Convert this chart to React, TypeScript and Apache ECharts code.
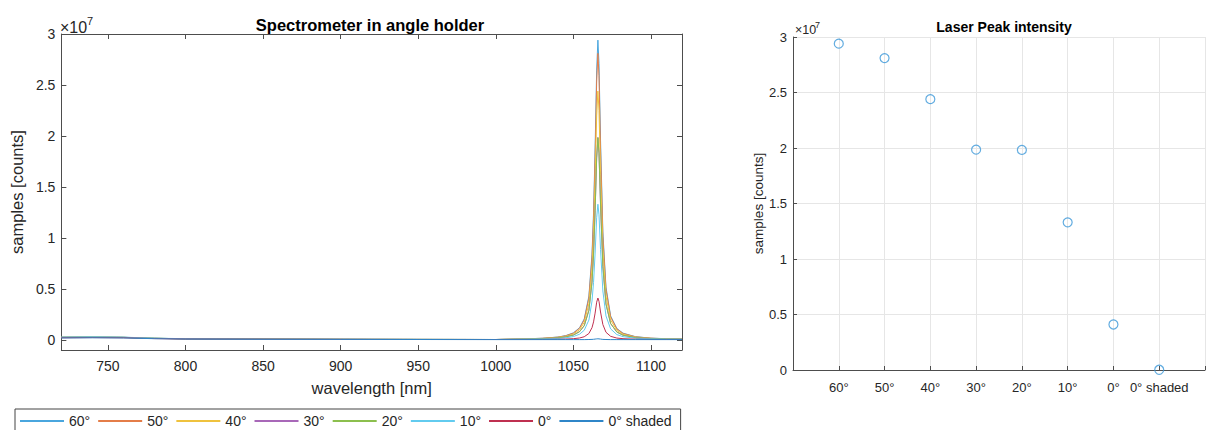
import React, { useEffect, useRef } from "react";
import * as echarts from "echarts";

const FONT = "'Liberation Sans', Arial, Helvetica, sans-serif";
const SCALE = 1e7; // values below are in units of 10^7 counts

const angleLabels = ["60°", "50°", "40°", "30°", "20°", "10°", "0°", "0° shaded"];

const wavelengths = [
  720, 740, 760, 780, 800, 850, 900, 950, 1000, 1020, 1030, 1040, 1045, 1050, 1054, 1057,
  1060, 1062, 1063, 1064, 1065, 1065.8, 1066.5, 1067.5, 1069, 1071, 1074, 1078, 1082, 1090,
  1100, 1110, 1120,
];

const spec60 = [0.025, 0.028, 0.025, 0.015, 0.010, 0.007, 0.005, 0.004, 0.003, 0.010, 0.015, 0.027, 0.041, 0.068, 0.119, 0.205, 0.429, 0.841, 1.247, 1.882, 2.646, 2.94, 2.711, 1.958, 1.058, 0.517, 0.234, 0.111, 0.065, 0.031, 0.016, 0.011, 0.008];
const spec50 = [0.024, 0.027, 0.024, 0.015, 0.010, 0.007, 0.005, 0.004, 0.003, 0.010, 0.015, 0.026, 0.039, 0.065, 0.114, 0.196, 0.410, 0.804, 1.191, 1.798, 2.529, 2.81, 2.591, 1.871, 1.012, 0.495, 0.224, 0.107, 0.062, 0.029, 0.016, 0.010, 0.008];
const spec40 = [0.025, 0.027, 0.024, 0.014, 0.010, 0.007, 0.005, 0.004, 0.003, 0.009, 0.013, 0.023, 0.034, 0.057, 0.099, 0.171, 0.356, 0.698, 1.035, 1.562, 2.196, 2.44, 2.25, 1.625, 0.878, 0.429, 0.195, 0.093, 0.054, 0.026, 0.014, 0.009, 0.007];
const spec30 = [0.024, 0.026, 0.023, 0.014, 0.009, 0.006, 0.005, 0.004, 0.003, 0.007, 0.011, 0.019, 0.028, 0.047, 0.081, 0.139, 0.290, 0.568, 0.842, 1.270, 1.787, 1.985, 1.830, 1.322, 0.715, 0.349, 0.159, 0.076, 0.045, 0.021, 0.012, 0.008, 0.006];
const spec20 = [0.025, 0.027, 0.024, 0.015, 0.010, 0.007, 0.005, 0.004, 0.003, 0.007, 0.011, 0.019, 0.028, 0.046, 0.080, 0.138, 0.288, 0.565, 0.84, 1.265, 1.78, 1.983, 1.835, 1.33, 0.72, 0.352, 0.16, 0.077, 0.045, 0.021, 0.012, 0.008, 0.006];
const spec10 = [0.026, 0.029, 0.026, 0.016, 0.011, 0.007, 0.005, 0.004, 0.003, 0.006, 0.008, 0.013, 0.019, 0.032, 0.055, 0.094, 0.194, 0.380, 0.564, 0.851, 1.197, 1.33, 1.226, 0.886, 0.479, 0.234, 0.107, 0.051, 0.031, 0.015, 0.009, 0.006, 0.005];
const spec0 = [0.020, 0.022, 0.020, 0.012, 0.008, 0.006, 0.004, 0.003, 0.003, 0.003, 0.004, 0.0055, 0.0074, 0.011, 0.018, 0.030, 0.062, 0.119, 0.176, 0.262, 0.369, 0.41, 0.378, 0.273, 0.150, 0.074, 0.034, 0.017, 0.011, 0.006, 0.004, 0.003, 0.003];
const spec0Shaded = [0.018, 0.020, 0.018, 0.011, 0.007, 0.005, 0.004, 0.003, 0.002, 0.002, 0.002, 0.002, 0.002, 0.002, 0.002, 0.002, 0.003, 0.004, 0.005, 0.007, 0.009, 0.010, 0.009, 0.007, 0.004, 0.003, 0.002, 0.002, 0.002, 0.002, 0.002, 0.002, 0.002];

const peakIntensity = [2.94, 2.81, 2.44, 1.985, 1.983, 1.33, 0.41, 0.002];

const wavelengthTicks = [750, 800, 850, 900, 950, 1000, 1050, 1100];
const countTicks = [0, 0.5, 1, 1.5, 2, 2.5, 3];

const lineColors = ["#4aa6de", "#e47d48", "#efc23e", "#a868b8", "#8cbf4e", "#62cbef", "#bf3050", "#2f86c8"];
const scatterColor = "#3b97d8";

const AXIS = "#4d4d4d";
const TXT = "#262626";

export default function App() {
  const ref = useRef<HTMLDivElement>(null);
  useEffect(() => {
    if (!ref.current) return;
    const chart = echarts.init(ref.current, null, { renderer: "svg" });
    const spectra = [spec60, spec50, spec40, spec30, spec20, spec10, spec0, spec0Shaded];
    const fmt = (v: number) => `${Math.round((v / SCALE) * 10) / 10}`;
    const yTicks = countTicks.map((t) => t * SCALE);

    const option: any = {
      animation: false,
      textStyle: { fontFamily: FONT },
      grid: [
        { left: 58, top: 34, width: 624, height: 316 },
        { left: 793, top: 37, width: 423, height: 333 },
      ],
      legend: {
        data: angleLabels,
        left: 15,
        top: 409,
        orient: "horizontal",
        itemWidth: 44,
        itemHeight: 14,
        itemGap: 7,
        padding: [5, 9, 12, 4],
        borderColor: "#444",
        borderWidth: 1,
        selectedMode: false,
        itemStyle: { opacity: 0 },
        textStyle: { fontSize: 14, color: TXT, fontFamily: FONT },
      },
      xAxis: [
        {
          gridIndex: 0,
          type: "value",
          min: 720,
          max: 1120,
          axisLine: { show: true, onZero: false, lineStyle: { color: AXIS } },
          axisTick: { show: true, inside: true, length: 5, customValues: wavelengthTicks, lineStyle: { color: AXIS } },
          axisLabel: { customValues: wavelengthTicks, formatter: (v: number) => String(v), fontSize: 14, color: TXT, margin: 9, fontFamily: FONT },
          splitLine: { show: false },
          name: "wavelength [nm]",
          nameLocation: "middle",
          nameGap: 29,
          nameTextStyle: { fontSize: 16.5, color: TXT, fontFamily: FONT },
        },
        {
          gridIndex: 0,
          type: "value",
          position: "top",
          min: 720,
          max: 1120,
          axisLine: { show: true, onZero: false, lineStyle: { color: AXIS } },
          axisTick: { show: true, inside: true, length: 5, customValues: wavelengthTicks, lineStyle: { color: AXIS } },
          axisLabel: { show: false },
          splitLine: { show: false },
        },
        {
          gridIndex: 1,
          type: "value",
          min: 0,
          max: 9,
          interval: 1,
          axisLine: { show: true, onZero: false, lineStyle: { color: AXIS } },
          axisTick: { show: true, inside: true, length: 4, lineStyle: { color: AXIS } },
          axisLabel: {
            fontSize: 13,
            color: TXT,
            margin: 11,
            fontFamily: FONT,
            formatter: (v: number) => angleLabels[v - 1] ?? "",
          },
          splitLine: { show: true, lineStyle: { color: "#e6e6e6", width: 1 } },
        },
      ],
      yAxis: [
        {
          gridIndex: 0,
          type: "value",
          min: -0.1 * SCALE,
          max: 3 * SCALE,
          axisLine: { show: true, onZero: false, lineStyle: { color: AXIS } },
          axisTick: { show: true, inside: true, length: 5, customValues: yTicks, lineStyle: { color: AXIS } },
          axisLabel: { customValues: yTicks, formatter: fmt, fontSize: 14, color: TXT, margin: 6, fontFamily: FONT },
          splitLine: { show: false },
          name: "samples [counts]",
          nameLocation: "middle",
          nameGap: 30,
          nameTextStyle: { fontSize: 16.5, color: TXT, fontFamily: FONT },
        },
        {
          gridIndex: 0,
          type: "value",
          position: "right",
          min: -0.1 * SCALE,
          max: 3 * SCALE,
          axisLine: { show: true, onZero: false, lineStyle: { color: AXIS } },
          axisTick: { show: true, inside: true, length: 5, customValues: yTicks, lineStyle: { color: AXIS } },
          axisLabel: { show: false },
          splitLine: { show: false },
        },
        {
          gridIndex: 1,
          type: "value",
          min: 0,
          max: 3 * SCALE,
          interval: 0.5 * SCALE,
          axisLine: { show: true, onZero: false, lineStyle: { color: AXIS } },
          axisTick: { show: true, inside: true, length: 4, lineStyle: { color: AXIS } },
          axisLabel: { formatter: fmt, fontSize: 13, color: TXT, margin: 6, fontFamily: FONT },
          splitLine: { show: true, lineStyle: { color: "#e6e6e6", width: 1 } },
          name: "samples [counts]",
          nameLocation: "middle",
          nameGap: 28,
          nameTextStyle: { fontSize: 13.5, color: TXT, fontFamily: FONT },
        },
      ],
      series: [
        ...spectra.map((s, i) => ({
          type: "line",
          name: angleLabels[i],
          xAxisIndex: 0,
          yAxisIndex: 0,
          data: wavelengths.map((w, j) => [w, s[j] * SCALE]),
          symbol: "none",
          showSymbol: false,
          lineStyle: { width: 1, color: lineColors[i] },
          itemStyle: { color: lineColors[i] },
          clip: true,
        })),
        {
          type: "scatter",
          name: "Laser Peak intensity",
          xAxisIndex: 2,
          yAxisIndex: 2,
          data: peakIntensity.map((p, i) => [i + 1, p * SCALE]),
          symbol: "circle",
          symbolSize: 9,
          itemStyle: { color: "rgba(255,255,255,0)", borderColor: scatterColor, borderWidth: 1.2 },
          clip: false,
        },
      ],
      graphic: [
        {
          type: "text",
          x: 370,
          y: 25,
          style: { text: "Spectrometer in angle holder", fontSize: 16.5, fontWeight: "bold", fontFamily: FONT, fill: "#000", align: "center", verticalAlign: "middle" },
        },
        {
          type: "text",
          x: 1004,
          y: 27,
          style: { text: "Laser Peak intensity", fontSize: 14, fontWeight: "bold", fontFamily: FONT, fill: "#000", align: "center", verticalAlign: "middle" },
        },
        {
          type: "text",
          x: 60,
          y: 27,
          style: { text: "×10", fontSize: 16, fontFamily: FONT, fill: TXT, align: "left", verticalAlign: "middle" },
        },
        {
          type: "text",
          x: 87,
          y: 21,
          style: { text: "7", fontSize: 11, fontFamily: FONT, fill: TXT, align: "left", verticalAlign: "middle" },
        },
        {
          type: "text",
          x: 795,
          y: 30,
          style: { text: "×10", fontSize: 12.5, fontFamily: FONT, fill: TXT, align: "left", verticalAlign: "middle" },
        },
        {
          type: "text",
          x: 815,
          y: 25,
          style: { text: "7", fontSize: 9, fontFamily: FONT, fill: TXT, align: "left", verticalAlign: "middle" },
        },
      ],
    };
    chart.setOption(option);
    return () => chart.dispose();
  }, []);
  return (
    <div
      ref={ref}
      style={{ position: "absolute", left: 0, top: 0, width: 1208, height: 430, background: "#fff" }}
    />
  );
}
